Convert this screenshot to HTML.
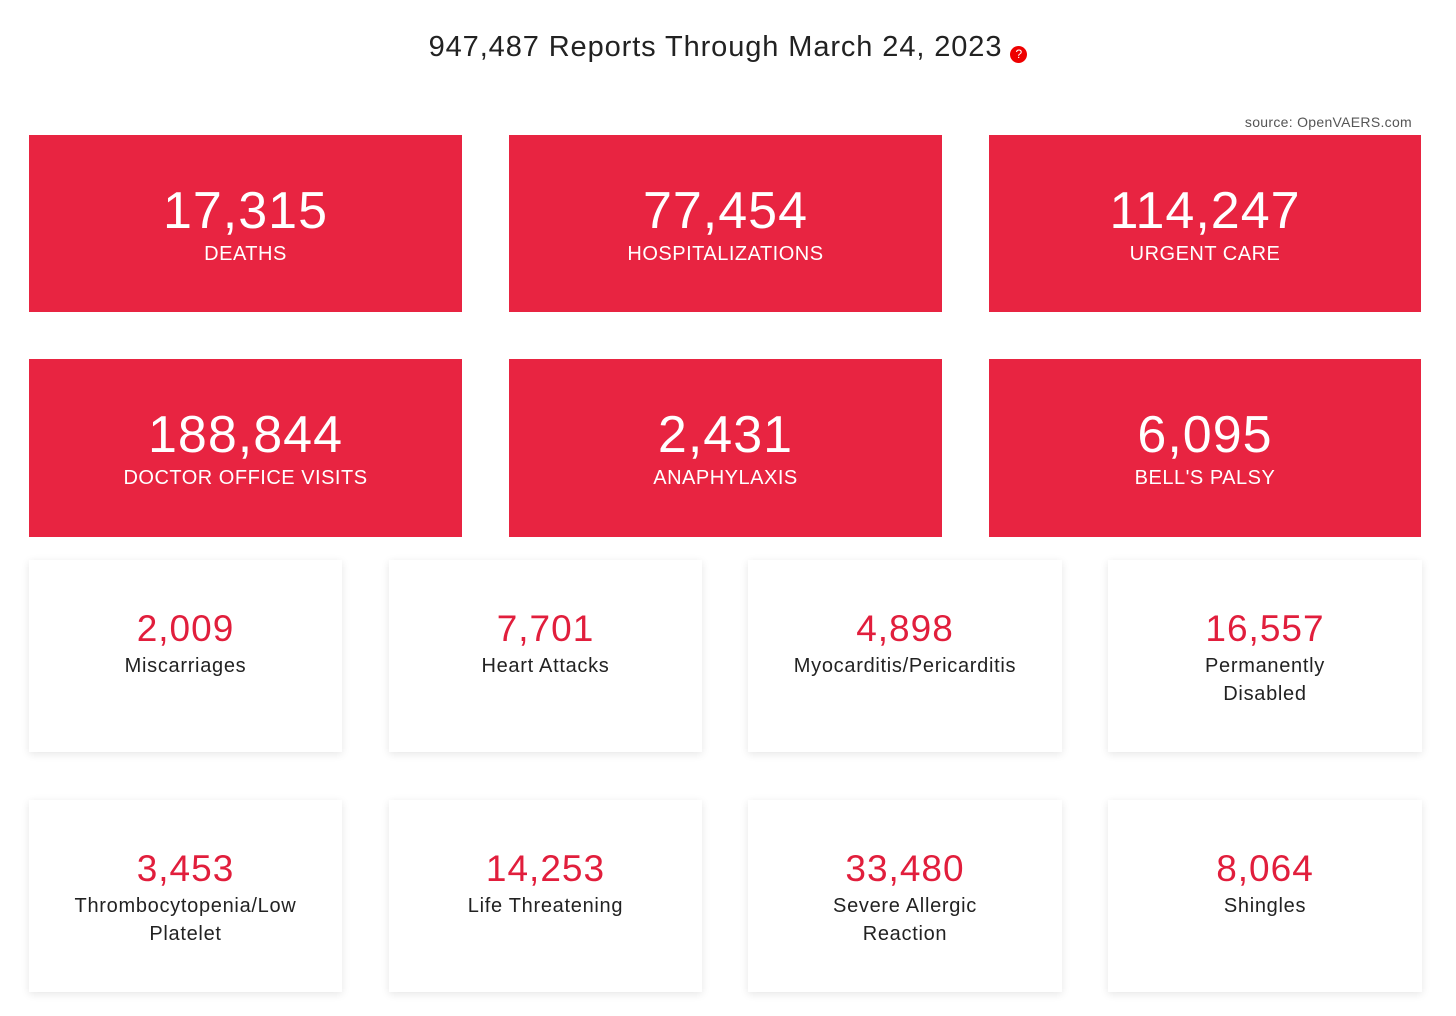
<!DOCTYPE html>
<html><head><meta charset="utf-8"><style>
body{margin:0;width:1456px;height:1016px;background:#fff;font-family:"Liberation Sans",sans-serif;position:relative;overflow:hidden}
.t{position:absolute;left:0;width:1456px;top:31px;text-align:center;font-size:29px;color:#222;letter-spacing:0.9px}
.q{display:inline-block;width:17px;height:17px;border-radius:50%;background:#e00;color:#fff;font-size:12px;line-height:17px;text-align:center;vertical-align:-2px;margin-left:8px;letter-spacing:0}
.src{position:absolute;right:44px;top:114px;font-size:14px;color:#555;letter-spacing:0.3px}
.r{position:absolute;background:#e82441;color:#fff;text-align:center;width:433px;height:177px}
.r .n{position:absolute;left:0;right:0;top:46px;font-size:52px;line-height:60px;letter-spacing:1px}
.r .l{position:absolute;left:0;right:0;top:107px;font-size:20px;line-height:24px;letter-spacing:0.5px}
.w{position:absolute;background:#fff;width:313px;height:192px;box-shadow:0 2px 8px rgba(0,0,0,0.10);text-align:center}
.w .n{position:absolute;left:0;right:0;top:47px;font-size:37px;line-height:44px;color:#e11e3c;letter-spacing:1px}
.w .l{position:absolute;left:0;right:0;top:92px;font-size:20px;line-height:28px;color:#222;letter-spacing:0.7px}
</style></head><body>
<div class="t">947,487 Reports Through March 24, 2023<span class="q">?</span></div>
<div class="src">source: OpenVAERS.com</div>

<div class="r" style="left:29px;top:135px"><div class="n">17,315</div><div class="l">DEATHS</div></div>
<div class="r" style="left:509px;top:135px"><div class="n">77,454</div><div class="l">HOSPITALIZATIONS</div></div>
<div class="r" style="left:989px;top:135px;width:432px"><div class="n">114,247</div><div class="l">URGENT CARE</div></div>
<div class="r" style="left:29px;top:359px;height:178px"><div class="n">188,844</div><div class="l">DOCTOR OFFICE VISITS</div></div>
<div class="r" style="left:509px;top:359px;height:178px"><div class="n">2,431</div><div class="l">ANAPHYLAXIS</div></div>
<div class="r" style="left:989px;top:359px;width:432px;height:178px"><div class="n">6,095</div><div class="l">BELL'S PALSY</div></div>

<div class="w" style="left:29px;top:560px"><div class="n">2,009</div><div class="l">Miscarriages</div></div>
<div class="w" style="left:389px;top:560px"><div class="n">7,701</div><div class="l">Heart Attacks</div></div>
<div class="w" style="left:748px;top:560px;width:314px"><div class="n">4,898</div><div class="l">Myocarditis/Pericarditis</div></div>
<div class="w" style="left:1108px;top:560px;width:314px"><div class="n">16,557</div><div class="l">Permanently<br>Disabled</div></div>

<div class="w" style="left:29px;top:800px"><div class="n">3,453</div><div class="l">Thrombocytopenia/Low<br>Platelet</div></div>
<div class="w" style="left:389px;top:800px"><div class="n">14,253</div><div class="l">Life Threatening</div></div>
<div class="w" style="left:748px;top:800px;width:314px"><div class="n">33,480</div><div class="l">Severe Allergic<br>Reaction</div></div>
<div class="w" style="left:1108px;top:800px;width:314px"><div class="n">8,064</div><div class="l">Shingles</div></div>
</body></html>
